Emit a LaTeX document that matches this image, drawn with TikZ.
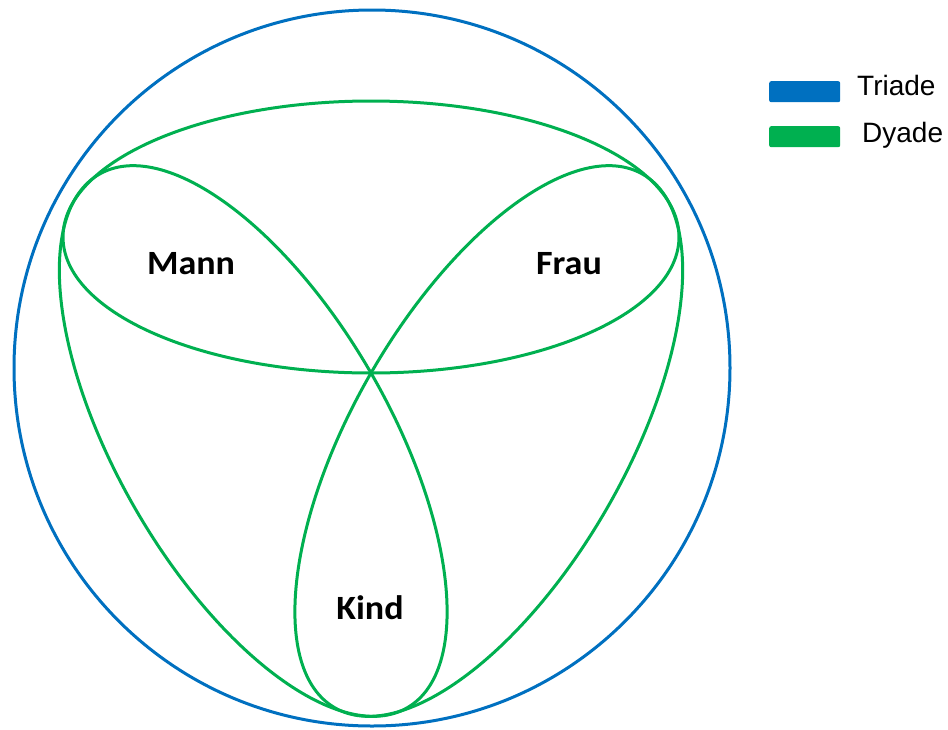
\documentclass[tikz,border=0pt]{standalone}
\usepackage{fontspec}
\setmainfont{Liberation Sans}
\newfontfamily\labelfont{Carlito}
\definecolor{triblue}{RGB}{0,112,192}
\definecolor{dygreen}{RGB}{0,176,80}
\begin{document}
\begin{tikzpicture}[x=1pt,y=-1pt,
  triade/.style={draw=triblue, line width=3pt},
  dyade/.style={draw=dygreen, line width=3pt},
  person/.style={font=\labelfont\bfseries\fontsize{34}{34}\selectfont, inner sep=0pt, anchor=base, xscale=1.06},
  legtext/.style={font=\fontsize{28}{28}\selectfont, inner sep=0pt, anchor=base west},
  legbox/.style={rounded corners=2pt, minimum width=71pt, minimum height=21pt, inner sep=0pt, anchor=north west}]
\useasboundingbox (0,0) rectangle (948,729);
\coordinate (O) at (372,368);
\draw[triade] (O) circle [radius=358];
\foreach \a in {0,120,-120}
  \draw[dyade, rotate around={\a:(371,373)}] (371,237) ellipse [x radius=308, y radius=136];
\node[person] (mann) at (191,274) {Mann};
\node[person] (frau) at (569,274) {Frau};
\node[person] (kind) at (370,619) {Kind};
\node[legbox, fill=triblue] (legT) at (769,81) {};
\node[legtext] (txtT) at (857,95) {Triade};
\node[legbox, fill=dygreen] (legD) at (769,126) {};
\node[legtext] (txtD) at (862,142) {Dyade};
\end{tikzpicture}
\end{document}
